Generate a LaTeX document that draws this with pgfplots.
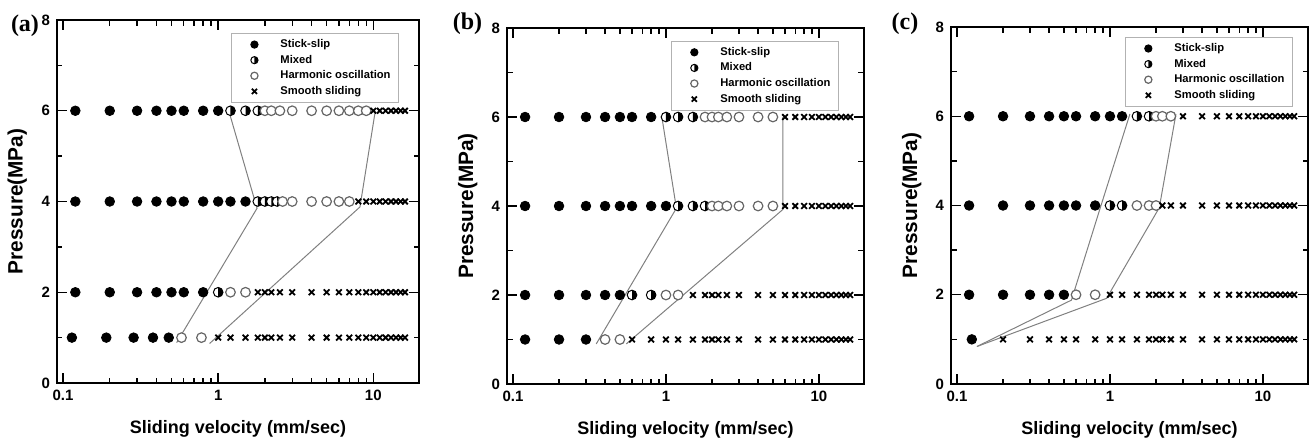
\documentclass[border=0pt]{standalone}
\usepackage{pgfplots}
\pgfplotsset{compat=1.18}
\usepackage{fontspec}
\setmainfont{Liberation Sans}
\newfontfamily\panelfont{Liberation Serif}

\pgfdeclareplotmark{halfright}{%
  \pgfpathcircle{\pgfpointorigin}{\pgfplotmarksize}%
  \pgfsetfillcolor{white}%
  \pgfusepathqfill
  \pgfpathmoveto{\pgfpoint{0pt}{\pgfplotmarksize}}%
  \pgfpatharc{90}{-90}{\pgfplotmarksize}%
  \pgfpathclose
  \pgfsetfillcolor{black}%
  \pgfusepathqfill
  \pgfpathcircle{\pgfpointorigin}{\pgfplotmarksize}%
  \pgfusepathqstroke
}

\newcommand\tickfont{\fontsize{7.5}{9}\selectfont\bfseries}
\newcommand\labfont{\fontsize{9}{11}\selectfont\bfseries}
\newcommand\ylabfont{\fontsize{10.4}{12}\selectfont\bfseries}
\newcommand\legfont{\fontsize{5.6}{6.5}\selectfont\bfseries}

\pgfplotsset{
  legimg/.style={legend image code/.code={\path[draw=none,fill=none] (0pt,-2pt) rectangle (20.5pt,2pt); \draw[##1, mark size=1.8pt] plot coordinates {(8.5pt,0pt)};}},
  ss/.style={only marks, mark=*, mark size=2.4pt, draw=black, fill=black, legimg},
  mx/.style={only marks, mark=halfright, mark size=2.4pt, draw=black, line width=0.5pt, legimg},
  ho/.style={only marks, mark=*, mark size=2.4pt, draw=black!60, fill=white, line width=0.6pt, legimg},
  sm/.style={only marks, mark=x, mark size=2pt, draw=black, line width=0.9pt, legimg},
  bnd/.style={no marks, draw=black!50, line width=0.5pt, forget plot},
  panel/.style={
    scale only axis,
    anchor=south west,
    xmin=0.0914, xmax=19.7, ymin=0, ymax=8,
    xtick={0.1,1,10}, xticklabels={0.1,1,10},
    minor xtick={0.2,0.3,0.4,0.5,0.6,0.7,0.8,0.9,2,3,4,5,6,7,8,9},
    ytick={0,2,4,6,8}, yticklabels={0,2,4,6,8},
    minor ytick={1,3,5,7},
    tick align=inside,
    major tick length=5pt, minor tick length=2.75pt,
    axis line style={line width=0.9pt},
    every tick/.style={black, line width=0.7pt},
    ticklabel style={font=\tickfont},
    xlabel={Sliding velocity (mm/sec)},
    ylabel={Pressure(MPa)},
    xlabel style={font=\labfont, at={(axis description cs:0.5,0)}, anchor=base, yshift=-25pt},
    ylabel style={font=\ylabfont, at={(axis description cs:-0.11,0.5)}, anchor=center},
    legend cell align=left,
    legend style={anchor=north east, draw=black!30, line width=0.5pt, fill=white,
      font=\legfont, inner xsep=3pt, inner ysep=1.6pt,
      nodes={inner sep=1pt, text height=4.4pt, text depth=1.4pt}},
  }
}

\begin{document}
\begin{tikzpicture}
\path (0pt,0pt) rectangle (655.5pt,219pt);

% ---------------- (a) ----------------
\begin{semilogxaxis}[panel, at={(28.5pt,27.5pt)}, width=181pt, height=181.5pt,
  legend style={at={(0.945,0.964)}}]
\addplot[bnd] coordinates {(1.17,6.0) (1.78,3.85) (0.54,0.89)};
\addplot[bnd] coordinates {(10.3,6.0) (8.2,3.88) (0.88,0.87)};
\addplot[ss] coordinates {
 (0.12,6) (0.2,6) (0.3,6) (0.4,6) (0.5,6) (0.6,6) (0.8,6) (1.0,6)
 (0.12,4) (0.2,4) (0.3,4) (0.4,4) (0.5,4) (0.6,4) (0.8,4) (1.0,4) (1.2,4) (1.5,4)
 (0.12,2) (0.2,2) (0.3,2) (0.4,2) (0.5,2) (0.6,2) (0.8,2)
 (0.114,1) (0.19,1) (0.285,1) (0.38,1) (0.48,1)};
\addplot[mx] coordinates {
 (1.2,6) (1.5,6) (1.8,6)
 (1.8,4) (2.0,4) (2.2,4) (2.4,4)
 (1.0,2)};
\addplot[ho] coordinates {
 (2.0,6) (2.2,6) (2.5,6) (3,6) (4,6) (5,6) (6,6) (7,6) (8,6) (9,6)
 (2.6,4) (3,4) (4,4) (5,4) (6,4) (7,4)
 (1.2,2) (1.5,2)
 (0.58,1) (0.78,1)};
\addplot[sm] coordinates {
 (10,6) (11,6) (12,6) (13,6) (14,6) (15,6) (16,6)
 (8,4) (9,4) (10,4) (11,4) (12,4) (13,4) (14,4) (15,4) (16,4)
 (1.8,2) (2.0,2) (2.2,2) (2.5,2) (3,2) (4,2) (5,2) (6,2) (7,2) (8,2) (9,2) (10,2) (11,2) (12,2) (13,2) (14,2) (15,2) (16,2)
 (1.0,1) (1.2,1) (1.5,1) (1.8,1) (2.0,1) (2.2,1) (2.5,1) (3,1) (4,1) (5,1) (6,1) (7,1) (8,1) (9,1) (10,1) (11,1) (12,1) (13,1) (14,1) (15,1) (16,1)};
\legend{Stick-slip,Mixed,Harmonic oscillation,Smooth sliding}
\end{semilogxaxis}

% ---------------- (b) ----------------
\begin{semilogxaxis}[panel, at={(253.5pt,27pt)}, width=178.5pt, height=178pt,
  legend style={at={(0.930,0.964)}}]
\addplot[bnd] coordinates {(0.94,6.0) (1.17,3.95) (0.35,0.9)};
\addplot[bnd] coordinates {(5.8,6.0) (5.8,3.92) (0.55,0.9)};
\addplot[ss] coordinates {
 (0.12,6) (0.2,6) (0.3,6) (0.4,6) (0.5,6) (0.6,6) (0.8,6)
 (0.12,4) (0.2,4) (0.3,4) (0.4,4) (0.5,4) (0.6,4) (0.8,4) (1.0,4)
 (0.12,2) (0.2,2) (0.3,2) (0.4,2) (0.5,2)
 (0.12,1) (0.2,1) (0.3,1)};
\addplot[mx] coordinates {
 (1.0,6) (1.2,6) (1.5,6)
 (1.2,4) (1.5,4) (1.8,4)
 (0.6,2) (0.8,2)};
\addplot[ho] coordinates {
 (1.8,6) (2.0,6) (2.2,6) (2.5,6) (3,6) (4,6) (5,6)
 (2.0,4) (2.2,4) (2.5,4) (3,4) (4,4) (5,4)
 (1.0,2) (1.2,2)
 (0.4,1) (0.5,1)};
\addplot[sm] coordinates {
 (6,6) (7,6) (8,6) (9,6) (10,6) (11,6) (12,6) (13,6) (14,6) (15,6) (16,6)
 (6,4) (7,4) (8,4) (9,4) (10,4) (11,4) (12,4) (13,4) (14,4) (15,4) (16,4)
 (1.5,2) (1.8,2) (2.0,2) (2.2,2) (2.5,2) (3,2) (4,2) (5,2) (6,2) (7,2) (8,2) (9,2) (10,2) (11,2) (12,2) (13,2) (14,2) (15,2) (16,2)
 (0.6,1) (0.8,1) (1.0,1) (1.2,1) (1.5,1) (1.8,1) (2.0,1) (2.2,1) (2.5,1) (3,1) (4,1) (5,1) (6,1) (7,1) (8,1) (9,1) (10,1) (11,1) (12,1) (13,1) (14,1) (15,1) (16,1)};
\legend{Stick-slip,Mixed,Harmonic oscillation,Smooth sliding}
\end{semilogxaxis}

% ---------------- (c) ----------------
\begin{semilogxaxis}[panel, at={(475.5pt,27pt)}, width=178.5pt, height=178.5pt,
  legend style={at={(0.958,0.972)}}]
\addplot[bnd] coordinates {(1.35,6.05) (0.87,3.98) (0.56,1.88) (0.135,0.84)};
\addplot[bnd] coordinates {(2.7,6.05) (2.1,3.95) (0.95,1.92) (0.135,0.84)};
\addplot[ss] coordinates {
 (0.12,6) (0.2,6) (0.3,6) (0.4,6) (0.5,6) (0.6,6) (0.8,6) (1.0,6) (1.2,6)
 (0.12,4) (0.2,4) (0.3,4) (0.4,4) (0.5,4) (0.6,4) (0.8,4)
 (0.12,2) (0.2,2) (0.3,2) (0.4,2) (0.5,2)
 (0.125,1)};
\addplot[mx] coordinates {
 (1.5,6) (1.8,6)
 (1.0,4) (1.2,4)};
\addplot[ho] coordinates {
 (2.0,6) (2.2,6) (2.5,6)
 (1.5,4) (1.8,4) (2.0,4)
 (0.6,2) (0.8,2)};
\addplot[sm] coordinates {
 (3,6) (4,6) (5,6) (6,6) (7,6) (8,6) (9,6) (10,6) (11,6) (12,6) (13,6) (14,6) (15,6) (16,6)
 (2.2,4) (2.5,4) (3,4) (4,4) (5,4) (6,4) (7,4) (8,4) (9,4) (10,4) (11,4) (12,4) (13,4) (14,4) (15,4) (16,4)
 (1.0,2) (1.2,2) (1.5,2) (1.8,2) (2.0,2) (2.2,2) (2.5,2) (3,2) (4,2) (5,2) (6,2) (7,2) (8,2) (9,2) (10,2) (11,2) (12,2) (13,2) (14,2) (15,2) (16,2)
 (0.2,1) (0.3,1) (0.4,1) (0.5,1) (0.6,1) (0.8,1) (1.0,1) (1.2,1) (1.5,1) (1.8,1) (2.0,1) (2.2,1) (2.5,1) (3,1) (4,1) (5,1) (6,1) (7,1) (8,1) (9,1) (10,1) (11,1) (12,1) (13,1) (14,1) (15,1) (16,1)};
\legend{Stick-slip,Mixed,Harmonic oscillation,Smooth sliding}
\end{semilogxaxis}

\node[font=\panelfont\bfseries\fontsize{12}{14}\selectfont] at (12.5pt,206pt) {(a)};
\node[font=\panelfont\bfseries\fontsize{12}{14}\selectfont] at (233.75pt,207pt) {(b)};
\node[font=\panelfont\bfseries\fontsize{12}{14}\selectfont] at (452.5pt,207pt) {(c)};
\end{tikzpicture}
\end{document}
